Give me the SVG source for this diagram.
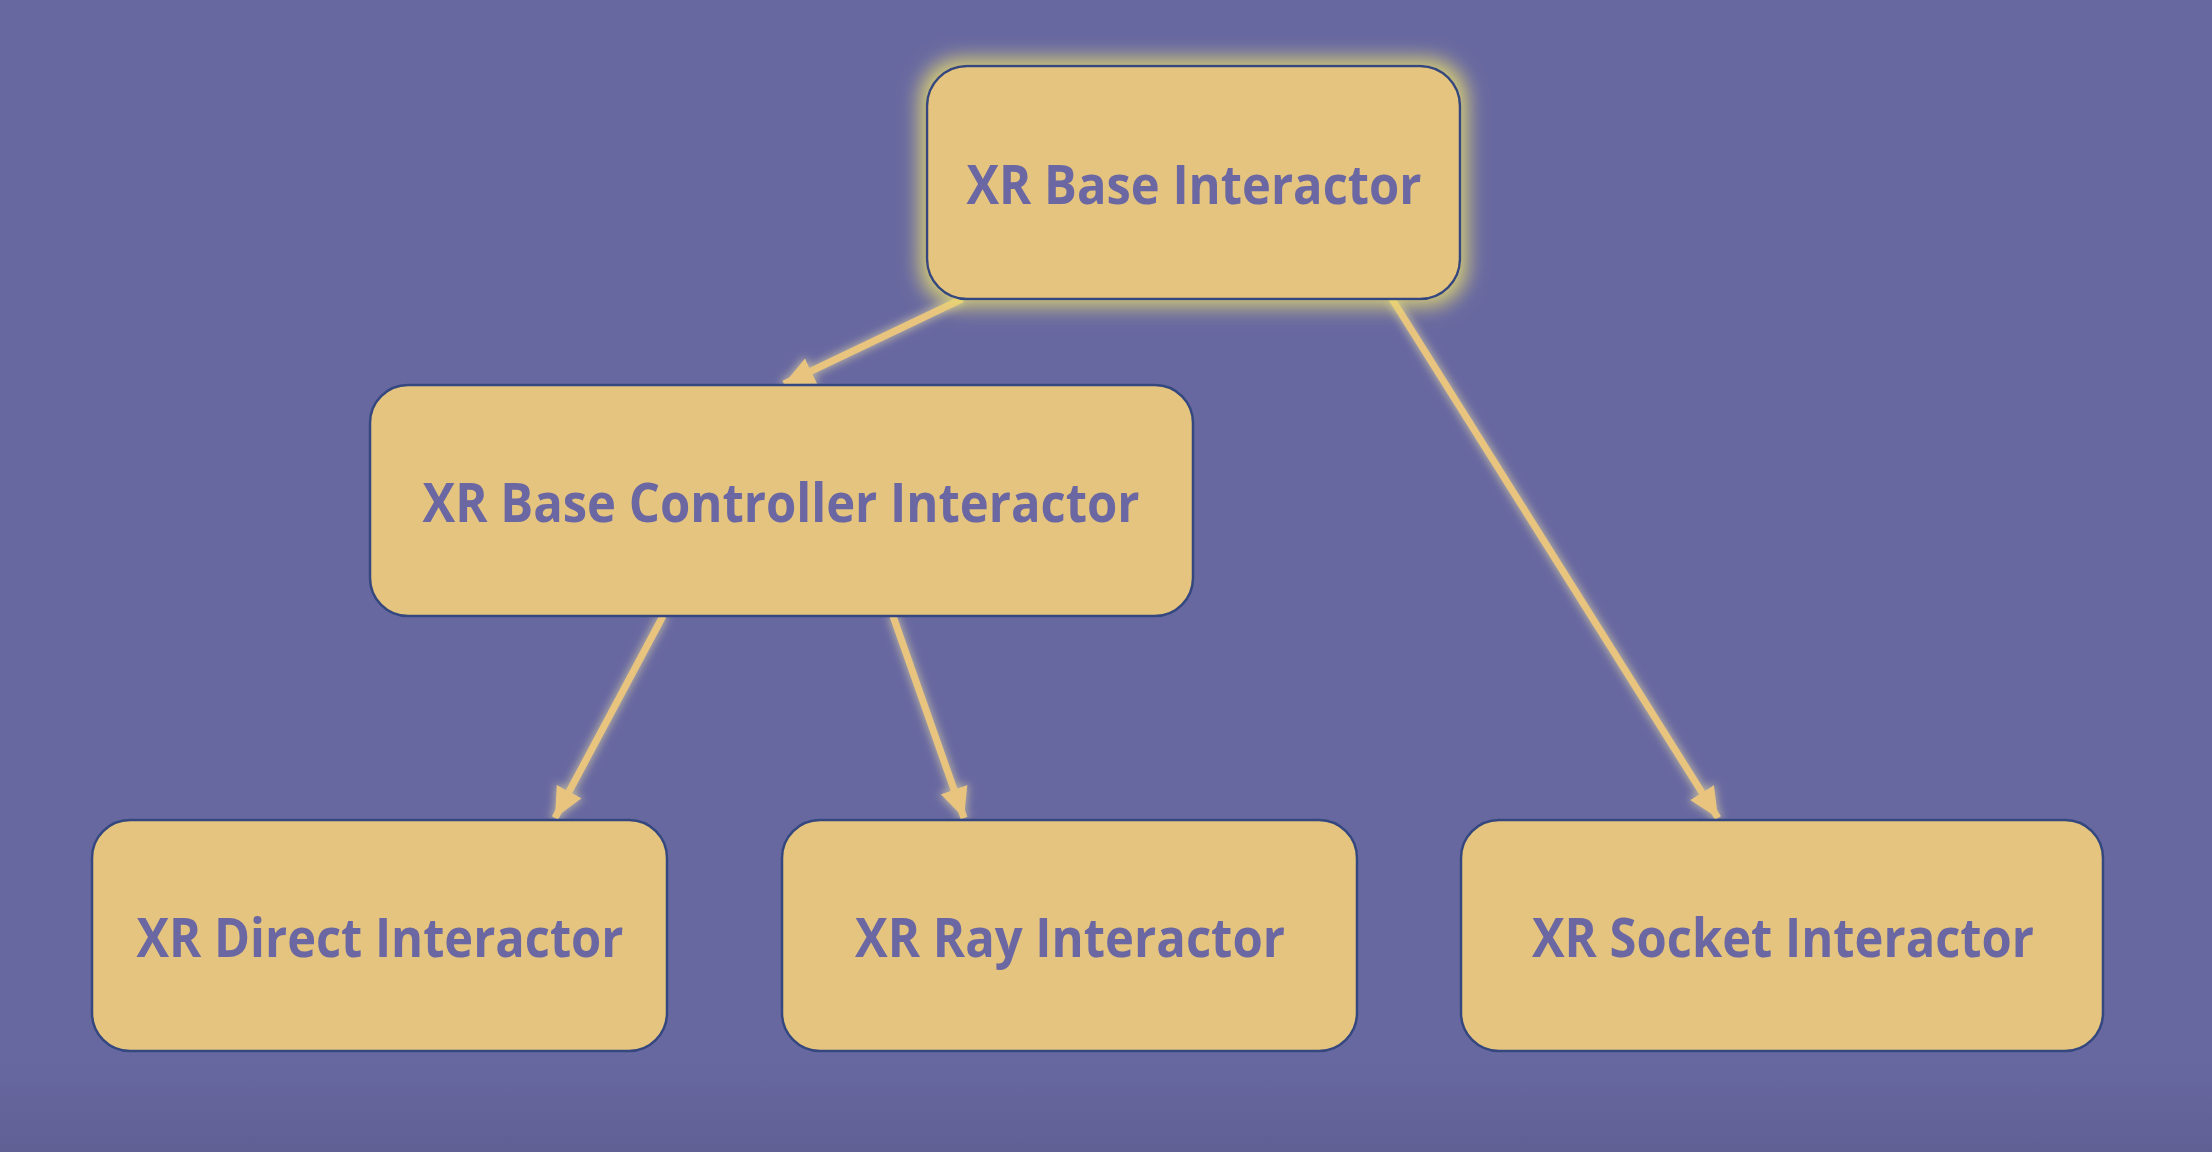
<svg xmlns="http://www.w3.org/2000/svg" width="2212" height="1152" viewBox="0 0 2212 1152">
  <defs>
    <style>
      .bg { fill: #6868a1; }
      .box { fill: #e4c47f; stroke: #34477f; stroke-width: 2.5; }
      .lbl { font-family: "Open Sans", "Noto Sans", "Liberation Sans", sans-serif; font-weight: 700; font-size: 54px; fill: #6a67a3; text-anchor: middle; }
      .edge { stroke: #e8c47f; stroke-width: 7; fill: none; stroke-linecap: butt; filter: url(#lineGlow); }
    </style>
    <linearGradient id="shade" x1="0" y1="0" x2="0" y2="1">
      <stop offset="0" stop-color="#50507e" stop-opacity="0"/>
      <stop offset="1" stop-color="#50507e" stop-opacity="0.35"/>
    </linearGradient>
    <filter id="boxGlow" x="-20%" y="-30%" width="140%" height="160%">
      <feMorphology in="SourceAlpha" operator="dilate" radius="6" result="d"/>
      <feGaussianBlur in="d" stdDeviation="10" result="b"/>
      <feFlood flood-color="#e6dc6e" flood-opacity="0.9"/>
      <feComposite in2="b" operator="in" result="g"/>
      <feMerge><feMergeNode in="g"/><feMergeNode in="SourceGraphic"/></feMerge>
    </filter>
    <filter id="lineGlow" x="-20%" y="-20%" width="140%" height="140%">
      <feMorphology in="SourceAlpha" operator="dilate" radius="1" result="d"/>
      <feGaussianBlur in="d" stdDeviation="4" result="b"/>
      <feFlood flood-color="#f0e6a0" flood-opacity="0.6"/>
      <feComposite in2="b" operator="in" result="g"/>
      <feMerge><feMergeNode in="g"/><feMergeNode in="SourceGraphic"/></feMerge>
    </filter>
    <marker id="arrow" markerUnits="userSpaceOnUse" markerWidth="32" markerHeight="32" viewBox="0 0 32 32" refX="30" refY="16" orient="auto">
      <path d="M0,2 L30,16 L0,30 Z" fill="#e8c47f"/>
    </marker>
  </defs>

  <rect class="bg" x="0" y="0" width="2212" height="1152"/>
  <rect x="0" y="1060" width="2212" height="92" fill="url(#shade)"/>

  <g id="connectors">
    <line class="edge" x1="962" y1="299" x2="784" y2="384" marker-end="url(#arrow)"/>
    <line class="edge" x1="663" y1="616" x2="555" y2="818" marker-end="url(#arrow)"/>
    <line class="edge" x1="893" y1="616" x2="964" y2="818" marker-end="url(#arrow)"/>
    <line class="edge" x1="1392" y1="299" x2="1718" y2="818" marker-end="url(#arrow)"/>
  </g>

  <g id="node-base">
    <rect class="box" x="927" y="66" width="533" height="233" rx="40" filter="url(#boxGlow)"/>
    <text class="lbl" x="1194" y="204" textLength="455" lengthAdjust="spacingAndGlyphs">XR Base Interactor</text>
  </g>

  <g id="node-controller">
    <rect class="box" x="370" y="385" width="823" height="231" rx="38"/>
    <text class="lbl" x="781" y="522" textLength="717" lengthAdjust="spacingAndGlyphs">XR Base Controller Interactor</text>
  </g>

  <g id="node-direct">
    <rect class="box" x="92" y="820" width="575" height="231" rx="38"/>
    <text class="lbl" x="380" y="957" textLength="487" lengthAdjust="spacingAndGlyphs">XR Direct Interactor</text>
  </g>

  <g id="node-ray">
    <rect class="box" x="782" y="820" width="575" height="231" rx="38"/>
    <text class="lbl" x="1070" y="957" textLength="430" lengthAdjust="spacingAndGlyphs">XR Ray Interactor</text>
  </g>

  <g id="node-socket">
    <rect class="box" x="1461" y="820" width="642" height="231" rx="38"/>
    <text class="lbl" x="1783" y="957" textLength="502" lengthAdjust="spacingAndGlyphs">XR Socket Interactor</text>
  </g>
</svg>
